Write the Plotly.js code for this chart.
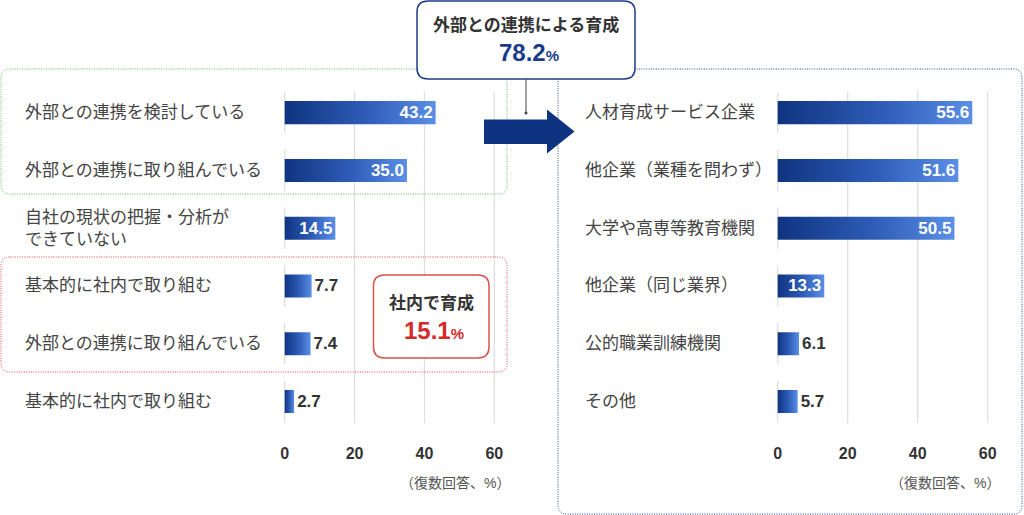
<!DOCTYPE html>
<html>
<head>
<meta charset="utf-8">
<script src="https://cdn.plot.ly/plotly-3.0.1.min.js"></script>
<style>
  html, body { margin: 0; padding: 0; background: #fff; }
  #chart { width: 1024px; height: 515px; }
</style>
</head>
<body>
<div id="chart"></div>
<script>
// data
const leftLabels = [
    '外部との連携を検討している',
    '外部との連携に取り組んでいる',
    '自社の現状の把握・分析が<br>できていない',
    '基本的に社内で取り組む',
    '外部との連携に取り組んでいる',
    '基本的に社内で取り組む'
];
const leftValues = [43.2, 35.0, 14.5, 7.7, 7.4, 2.7];

const rightLabels = [
    '人材育成サービス企業',
    '他企業（業種を問わず）',
    '大学や高専等教育機関',
    '他企業（同じ業界）',
    '公的職業訓練機関',
    'その他'
];
const rightValues = [55.6, 51.6, 50.5, 13.3, 6.1, 5.7];

const tickValues = [0, 20, 40, 60];
const noteText = '（復数回答、%）';

const externalTitle = '外部との連携による育成';
const externalTotal = 78.2;
const internalTitle = '社内で育成';
const internalTotal = 15.1;

// page geometry helpers (pixels -> paper)
const W = 1024, H = 515;
function px(x) { return x / W; }
function py(y) { return 1 - y / H; }

function roundRect(x0, y0, x1, y1, r) {
    return 'M' + px(x0 + r) + ',' + py(y0) +
        ' L' + px(x1 - r) + ',' + py(y0) +
        ' Q' + px(x1) + ',' + py(y0) + ' ' + px(x1) + ',' + py(y0 + r) +
        ' L' + px(x1) + ',' + py(y1 - r) +
        ' Q' + px(x1) + ',' + py(y1) + ' ' + px(x1 - r) + ',' + py(y1) +
        ' L' + px(x0 + r) + ',' + py(y1) +
        ' Q' + px(x0) + ',' + py(y1) + ' ' + px(x0) + ',' + py(y1 - r) +
        ' L' + px(x0) + ',' + py(y0 + r) +
        ' Q' + px(x0) + ',' + py(y0) + ' ' + px(x0 + r) + ',' + py(y0) + ' Z';
}

const FONT = "'Liberation Sans', 'Noto Sans CJK JP', sans-serif";
const DOTS = '1px,1.4px';
const rows = leftValues.map((v, i) => i);

function barTrace(values, xaxis) {
    return {
        type: 'bar',
        orientation: 'h',
        x: values,
        y: rows,
        xaxis: xaxis,
        yaxis: 'y',
        width: 0.4,
        marker: { color: '#2a55b0', line: { width: 0 } },
        text: values.map(v => v.toFixed(1)),
        textposition: values.map(v => v > 12 ? 'inside' : 'outside'),
        insidetextanchor: 'end',
        constraintext: 'none',
        cliponaxis: false,
        insidetextfont: { family: FONT, size: 17, color: '#ffffff', weight: 'bold' },
        outsidetextfont: { family: FONT, size: 17, color: '#333333', weight: 'bold' },
        hoverinfo: 'skip'
    };
}

var data = [barTrace(leftValues, 'x'), barTrace(rightValues, 'x2')];

var axisBase = {
    range: [-1, 61],
    tickvals: tickValues,
    ticks: '',
    showgrid: false,
    zeroline: false,
    showline: false,
    anchor: 'y',
    ticklabelstandoff: 19,
    tickfont: { family: FONT, size: 16, color: '#333333', weight: 'bold' },
    fixedrange: true
};

var shapes = [];

// grid lines, the zero line is broken row by row
['x', 'x2'].forEach(function (xr) {
    tickValues.forEach(function (t) {
        if (t === 0) {
            rows.forEach(function (r) {
                shapes.push({ type: 'line', xref: xr, yref: 'y', x0: 0, x1: 0,
                    y0: r - 0.36, y1: r + 0.36, layer: 'below',
                    line: { color: '#dddddd', width: 1.2 } });
            });
        } else {
            shapes.push({ type: 'line', xref: xr, yref: 'y', x0: t, x1: t,
                y0: -0.37, y1: 5.37, layer: 'below',
                line: { color: '#dddddd', width: 1.2 } });
        }
    });
});

// dotted group frames
shapes.push({ type: 'path', xref: 'paper', yref: 'paper', path: roundRect(1, 69, 507, 194, 9),
    line: { color: '#5cbf5c', width: 1, dash: DOTS } });
shapes.push({ type: 'path', xref: 'paper', yref: 'paper', path: roundRect(1, 257, 507, 372, 9),
    line: { color: '#e04848', width: 1, dash: DOTS } });
shapes.push({ type: 'path', xref: 'paper', yref: 'paper', path: roundRect(558, 69, 1022, 514, 9),
    line: { color: '#24438f', width: 1, dash: DOTS } });

// arrow
shapes.push({ type: 'path', xref: 'paper', yref: 'paper',
    path: 'M' + px(484) + ',' + py(119.5) + ' L' + px(547) + ',' + py(119.5) +
        ' L' + px(547) + ',' + py(109.5) + ' L' + px(574.5) + ',' + py(131.5) +
        ' L' + px(547) + ',' + py(153.5) + ' L' + px(547) + ',' + py(144) +
        ' L' + px(484) + ',' + py(144) + ' Z',
    fillcolor: '#0e3380', line: { width: 0 } });

// connector from the top box
shapes.push({ type: 'line', xref: 'paper', yref: 'paper', x0: px(526), x1: px(526),
    y0: py(79), y1: py(113), line: { color: '#444444', width: 1 } });
shapes.push({ type: 'circle', xref: 'paper', yref: 'paper', x0: px(524.5), x1: px(527.5),
    y0: py(111.5), y1: py(114.5), fillcolor: '#444444', line: { width: 0 } });

// summary boxes
shapes.push({ type: 'path', xref: 'paper', yref: 'paper', path: roundRect(417, 1, 635, 79, 11),
    fillcolor: '#ffffff', line: { color: '#1f3f8a', width: 1.5 } });
shapes.push({ type: 'path', xref: 'paper', yref: 'paper', path: roundRect(373.5, 275, 489, 358, 11),
    fillcolor: '#ffffff', line: { color: '#d9534f', width: 1.5 } });

var annotations = [];

leftLabels.forEach(function (lab, i) {
    annotations.push({ xref: 'paper', yref: 'y', x: px(23), y: i, text: lab,
        xanchor: 'left', yanchor: 'middle', align: 'left', showarrow: false,
        font: { family: FONT, size: 17, color: '#444444' } });
});
rightLabels.forEach(function (lab, i) {
    annotations.push({ xref: 'paper', yref: 'y', x: px(583), y: i, text: lab,
        xanchor: 'left', yanchor: 'middle', align: 'left', showarrow: false,
        font: { family: FONT, size: 17, color: '#444444' } });
});

[512, 1002].forEach(function (xr) {
    annotations.push({ xref: 'paper', yref: 'paper', x: px(xr), y: py(483), text: noteText,
        xanchor: 'right', yanchor: 'middle', showarrow: false,
        font: { family: FONT, size: 14, color: '#555555' } });
});

annotations.push({ xref: 'paper', yref: 'paper', x: px(526), y: py(25), text: externalTitle,
    xanchor: 'center', yanchor: 'middle', showarrow: false,
    font: { family: FONT, size: 17, color: '#333333', weight: 'bold' } });
annotations.push({ xref: 'paper', yref: 'paper', x: px(529), y: py(52),
    text: externalTotal.toFixed(1) + '<span style="font-size:15px">%</span>',
    xanchor: 'center', yanchor: 'middle', showarrow: false,
    font: { family: FONT, size: 24, color: '#1a3a8a', weight: 'bold' } });
annotations.push({ xref: 'paper', yref: 'paper', x: px(431), y: py(303), text: internalTitle,
    xanchor: 'center', yanchor: 'middle', showarrow: false,
    font: { family: FONT, size: 17, color: '#333333', weight: 'bold' } });
annotations.push({ xref: 'paper', yref: 'paper', x: px(434), y: py(330),
    text: internalTotal.toFixed(1) + '<span style="font-size:15px">%</span>',
    xanchor: 'center', yanchor: 'middle', showarrow: false,
    font: { family: FONT, size: 24, color: '#d42a2a', weight: 'bold' } });

var layout = {
    width: W,
    height: H,
    margin: { l: 0, r: 0, t: 0, b: 0 },
    paper_bgcolor: '#ffffff',
    plot_bgcolor: 'rgba(0,0,0,0)',
    showlegend: false,
    font: { family: FONT },
    xaxis: Object.assign({}, axisBase, { domain: [px(281.2), px(497.8)] }),
    xaxis2: Object.assign({}, axisBase, { domain: [px(774.2), px(991.2)] }),
    yaxis: { domain: [py(422.9), py(91.3)], range: [5.37, -0.37], visible: false, fixedrange: true },
    shapes: shapes,
    annotations: annotations
};

// bars get a left-to-right gradient, plotly has no gradient fill for bars
function paintGradient() {
    var svg = document.querySelector('#chart .main-svg');
    var ns = 'http://www.w3.org/2000/svg';
    var defs = document.createElementNS(ns, 'defs');
    var grad = document.createElementNS(ns, 'linearGradient');
    grad.setAttribute('id', 'barGrad');
    grad.setAttribute('x1', '0'); grad.setAttribute('x2', '1');
    grad.setAttribute('y1', '0'); grad.setAttribute('y2', '0');
    [['0%', '#0f3480'], ['55%', '#2f5db8'], ['100%', '#5b8fe6']].forEach(function (s) {
        var st = document.createElementNS(ns, 'stop');
        st.setAttribute('offset', s[0]);
        st.setAttribute('stop-color', s[1]);
        grad.appendChild(st);
    });
    defs.appendChild(grad);
    svg.insertBefore(defs, svg.firstChild);
    document.querySelectorAll('#chart .bars .point path').forEach(function (p) {
        p.style.fill = 'url(#barGrad)';
    });
}

Plotly.newPlot('chart', data, layout, { staticPlot: true, displayModeBar: false }).then(paintGradient);
</script>
</body>
</html>
